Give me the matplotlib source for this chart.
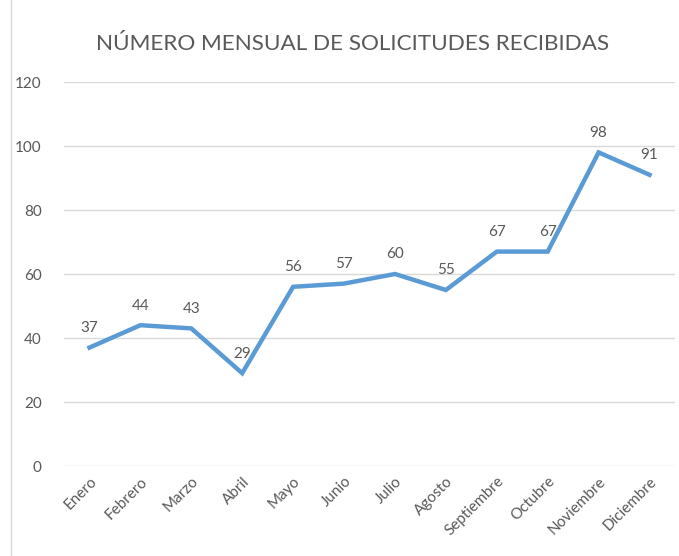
import matplotlib.pyplot as plt
from matplotlib.lines import Line2D

# Data
months = ['Enero', 'Febrero', 'Marzo', 'Abril', 'Mayo', 'Junio', 'Julio',
          'Agosto', 'Septiembre', 'Octubre', 'Noviembre', 'Diciembre']
requests = [37, 44, 43, 29, 56, 57, 60, 55, 67, 67, 98, 91]
y_ticks = [0, 20, 40, 60, 80, 100, 120]

plt.rcParams['font.family'] = ['Lato', 'DejaVu Sans']
text_color = '#595959'

fig = plt.figure(figsize=(6.79, 5.56), dpi=100)
ax = fig.add_axes([64 / 679, 1 - 466 / 556, 611 / 679, 384 / 556])

x = list(range(len(months)))
ax.plot(x, requests, color='#5B9BD5', linewidth=3.2, solid_joinstyle='miter')
for xi, v in zip(x, requests):
    ax.annotate(str(v), (xi, v), xytext=(0, 9), textcoords='offset points',
                ha='center', va='bottom', fontsize=11, color=text_color)

ax.set_xlim(-0.5, len(months) - 0.5)
ax.set_ylim(0, 120)
ax.set_yticks(y_ticks)
ax.set_xticks(x)
ax.set_xticklabels(months, rotation=45, ha='right', rotation_mode='anchor')
ax.tick_params(axis='both', length=0, colors=text_color, labelsize=11)
ax.tick_params(axis='y', pad=16)
ax.tick_params(axis='x', pad=6)
ax.grid(axis='y', color='#D9D9D9', linewidth=1)
ax.set_axisbelow(True)
for s in ax.spines.values():
    s.set_visible(False)

fig.text(353 / 679, 1 - 44 / 556, 'NÚMERO MENSUAL DE SOLICITUDES RECIBIDAS',
         ha='center', va='center', fontsize=16.2, color=text_color)

# left border of the chart box
fig.add_artist(Line2D([11 / 679, 11 / 679], [0, 1], transform=fig.transFigure,
                      color='#D9D9D9', linewidth=1))

fig.savefig('out.png', dpi=100)
